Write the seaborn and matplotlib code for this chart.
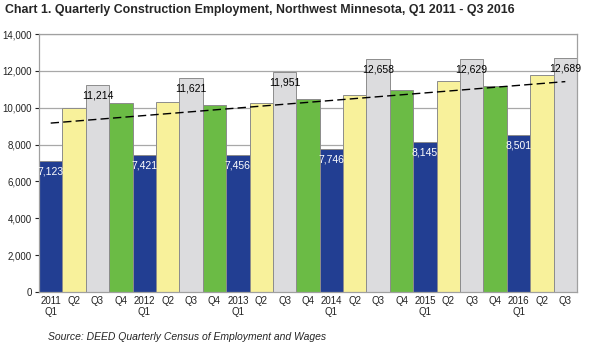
import numpy as np
import pandas as pd
import matplotlib
matplotlib.use("Agg")
import matplotlib.pyplot as plt
import seaborn as sns

# ---- data ----
years = ["2011", "2012", "2013", "2014", "2015", "2016"]
quarters = ["Q1", "Q2", "Q3", "Q4"]
tick_labels = ["2011\nQ1", "Q2", "Q3", "Q4",
               "2012\nQ1", "Q2", "Q3", "Q4",
               "2013\nQ1", "Q2", "Q3", "Q4",
               "2014\nQ1", "Q2", "Q3", "Q4",
               "2015\nQ1", "Q2", "Q3", "Q4",
               "2016\nQ1", "Q2", "Q3"]
quarter_of_bar = ["Q1", "Q2", "Q3", "Q4"] * 5 + ["Q1", "Q2", "Q3"]
employment = [7123, 9980, 11214, 10240,
              7421, 10330, 11621, 10165,
              7456, 10270, 11951, 10490,
              7746, 10705, 12658, 10945,
              8145, 11465, 12629, 11180,
              8501, 11775, 12689]
quarter_colors = {"Q1": "#223e92", "Q2": "#f8f19b", "Q3": "#dcdcde", "Q4": "#6bbb45"}

sns.set_theme(style="white")
plt.rcParams["font.family"] = ["Liberation Sans", "DejaVu Sans"]

df = pd.DataFrame({"idx": np.arange(len(employment)),
                   "quarter": quarter_of_bar,
                   "value": employment})

fig = plt.figure(figsize=(5.9, 3.45), dpi=100)
ax = fig.add_axes([39/590, 1-292/345, (577-39)/590, (292-34)/345])

sns.barplot(data=df, x="idx", y="value", hue="quarter", palette=quarter_colors,
            dodge=False, width=1.0, saturation=1, edgecolor="#8c8c8c", linewidth=0.7,
            legend=False, ax=ax, zorder=2)

# trend line (least squares through the series)
xs = df["idx"].to_numpy()
coef = np.polyfit(xs, df["value"].to_numpy(), 1)
ax.plot(xs[[0, -1]], np.polyval(coef, xs[[0, -1]]), color="black",
        linestyle=(0, (6, 3)), linewidth=1.0, zorder=4)

# value labels for Q1 (white) and Q3 (black)
for i, (q, v) in enumerate(zip(quarter_of_bar, employment)):
    if q == "Q1":
        ax.annotate(f"{v:,}", (i, v), xytext=(0, -7.5), textcoords="offset points",
                    ha="center", va="center", color="white", fontsize=7.5, zorder=5)
    elif q == "Q3":
        ax.annotate(f"{v:,}", (i, v), xytext=(0, -7.5), textcoords="offset points",
                    ha="center", va="center", color="black", fontsize=7.5, zorder=5)

ax.set_xlim(-0.5, len(employment) - 0.5)
ax.set_ylim(0, 14000)
ax.set_yticks(np.arange(0, 14001, 2000))
ax.set_yticklabels([f"{int(t):,}" for t in np.arange(0, 14001, 2000)], fontsize=7)
ax.set_xticks(xs)
ax.set_xticklabels(tick_labels, fontsize=7, linespacing=1.1)
ax.set_xticks(np.arange(-0.5, len(employment), 1.0), minor=True)
ax.tick_params(axis="x", which="major", length=0, pad=3, colors="#222222")
ax.tick_params(axis="x", which="minor", length=3, color="#8c8c8c", width=0.8, direction="out")
ax.tick_params(axis="y", length=3, color="#8c8c8c", width=0.8, direction="out", pad=2,
               left=True, colors="#222222")
ax.tick_params(axis="y", colors="#222222")
ax.yaxis.grid(True, color="#a8a8a8", linewidth=0.9, zorder=0)
ax.set_axisbelow(True)
for s in ax.spines.values():
    s.set_color("#a0a0a0")
    s.set_linewidth(0.9)
ax.set_xlabel("")
ax.set_ylabel("")

fig.text(5/590, 1-10/345, "Chart 1. Quarterly Construction Employment, Northwest Minnesota, Q1 2011 - Q3 2016",
         fontsize=8.9, fontweight="bold", ha="left", va="center")
fig.text(48/590, 1-337/345, "Source: DEED Quarterly Census of Employment and Wages",
         fontsize=7.5, fontstyle="italic", ha="left", va="center")

fig.savefig("out.png", dpi=100)
